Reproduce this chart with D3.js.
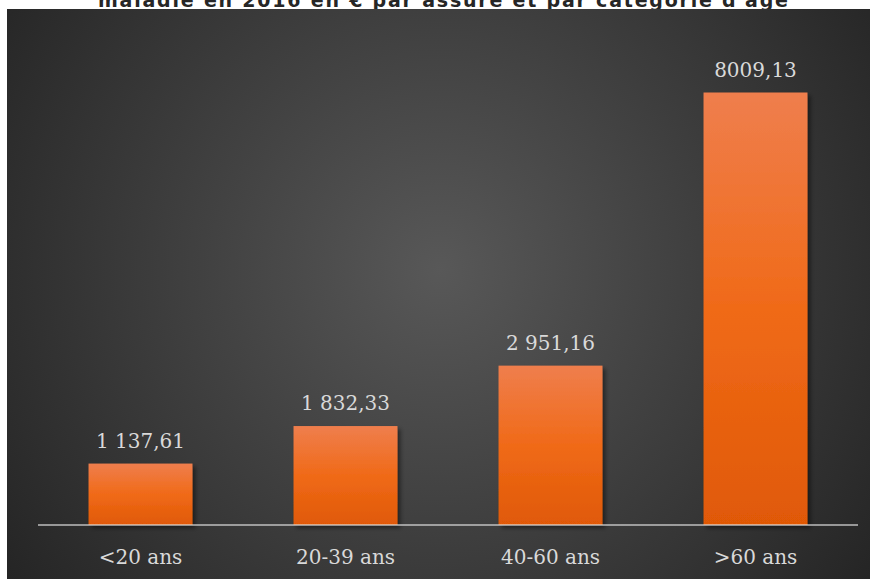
<!DOCTYPE html>
<html>
<head>
<meta charset="utf-8">
<script src="https://cdn.jsdelivr.net/npm/d3@7"></script>
<style>
  html, body { margin: 0; padding: 0; background: #ffffff; }
  svg { display: block; }
</style>
</head>
<body>
<script>
const categories = ["<20 ans", "20-39 ans", "40-60 ans", ">60 ans"];
const values = [1137.61, 1832.33, 2951.16, 8009.13];
const valueLabels = ["1 137,61", "1 832,33", "2 951,16", "8009,13"];
const titleText = "maladie en 2016 en € par assuré et par catégorie d'âge";

const W = 876, H = 579;
const svg = d3.select("body").append("svg").attr("width", W).attr("height", H);
const defs = svg.append("defs");

const bg = defs.append("radialGradient").attr("id", "bg")
  .attr("gradientUnits", "userSpaceOnUse")
  .attr("cx", 440).attr("cy", 270).attr("r", 540);
bg.append("stop").attr("offset", "0%").attr("stop-color", "#585858");
bg.append("stop").attr("offset", "100%").attr("stop-color", "#242424");

const barGrad = defs.append("linearGradient").attr("id", "barGrad")
  .attr("x1", 0).attr("y1", 0).attr("x2", 0).attr("y2", 1);
barGrad.append("stop").attr("offset", "0%").attr("stop-color", "#ef7e4d");
barGrad.append("stop").attr("offset", "50%").attr("stop-color", "#f06a18");
barGrad.append("stop").attr("offset", "100%").attr("stop-color", "#e05906");

const sh = defs.append("filter").attr("id", "shadow")
  .attr("x", "-10%").attr("y", "-10%").attr("width", "130%").attr("height", "130%");
sh.append("feDropShadow").attr("dx", 3).attr("dy", 3).attr("stdDeviation", 2)
  .attr("flood-color", "#000").attr("flood-opacity", 0.45);

// Title (partially hidden behind the panel, as in the reference)
svg.append("text")
  .attr("x", 98).attr("y", 7)
  .attr("textLength", 690).attr("lengthAdjust", "spacing")
  .attr("font-family", "'DejaVu Sans', sans-serif")
  .attr("font-weight", "bold")
  .attr("font-size", 19)
  .attr("fill", "#262626")
  .text(titleText);

// Panel
svg.append("rect").attr("x", 7).attr("y", 9).attr("width", 863).attr("height", H - 9)
  .attr("fill", "url(#bg)");

const x = d3.scaleBand().domain(categories).range([38, 858])
  .paddingInner(0.493).paddingOuter(0.2465);
const y = d3.scaleLinear().domain([0, 9000]).range([525, 39]);

const data = categories.map((c, i) => ({ c, v: values[i], label: valueLabels[i] }));

svg.append("g").selectAll("rect").data(data).join("rect")
  .attr("x", d => x(d.c))
  .attr("y", d => y(d.v))
  .attr("width", x.bandwidth())
  .attr("height", d => y(0) - y(d.v))
  .attr("fill", "url(#barGrad)")
  .attr("filter", "url(#shadow)");

// Axis line
const axis = svg.append("g").attr("transform", `translate(0,${y(0)})`)
  .call(d3.axisBottom(x).tickSize(0).tickPadding(0));
axis.select(".domain").attr("stroke", "rgba(225,225,225,0.6)").attr("stroke-width", 2)
  .attr("d", "M38,0H858");
axis.selectAll(".tick text")
  .attr("y", 39).attr("dy", 0)
  .attr("font-family", "'DejaVu Serif', Georgia, serif")
  .attr("font-size", 20)
  .attr("fill", "#d9d9d9");

// Value labels
svg.append("g").selectAll("text").data(data).join("text")
  .attr("x", d => x(d.c) + x.bandwidth() / 2)
  .attr("y", d => y(d.v) - 16)
  .attr("text-anchor", "middle")
  .attr("font-family", "'DejaVu Serif', Georgia, serif")
  .attr("font-size", 20)
  .attr("fill", "#d9d9d9")
  .text(d => d.label);
</script>
</body>
</html>
